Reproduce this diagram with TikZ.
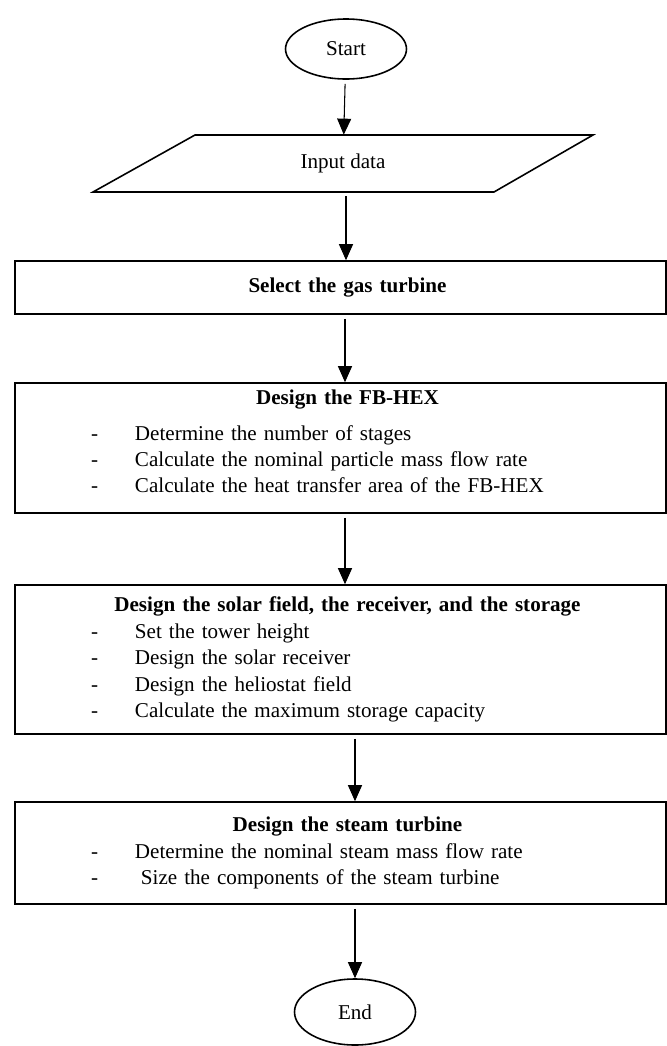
\documentclass[tikz,border=0pt]{standalone}
\usepackage{fontspec}
\setmainfont{Liberation Serif}
\usetikzlibrary{arrows.meta}
\usetikzlibrary{shapes.geometric}

\newcommand{\steptitle}[1]{{\centering\hspace*{0.28cm}\textbf{#1}\par}}
\newcommand{\substep}[2][0pt]{\par\noindent\hspace*{1.52cm}\makebox[0.88cm][l]{-}\hspace*{#1}#2}

\begin{document}
\begin{tikzpicture}[every node/.style={font=\fontsize{12}{15}\selectfont},
    terminal/.style={ellipse,draw,line width=0.9pt,minimum width=2.42cm,minimum height=1.2cm,inner sep=0pt},
    stepbox/.style={rectangle,draw,line width=0.9pt,minimum width=13.02cm,text width=13.02cm,inner sep=0pt,align=left},
    flow/.style={-{Triangle[length=0.32cm,width=0.28cm]},line width=0.6pt,shorten <=0.08cm}]
\useasboundingbox (0,0) rectangle (13.34,-20.92);

\draw (6.92,-0.98) node (Start) [terminal] {Start};

\draw[line width=0.9pt] (1.86,-3.84) -- (3.9,-2.7) -- (11.86,-2.7) -- (9.88,-3.84) -- cycle;
\draw (6.86,-3.27) node (Input) [minimum width=8.02cm,minimum height=1.14cm,inner sep=0pt] {Input data};

\draw (6.81,-5.75) node (Select) [stepbox,minimum height=1.06cm]
    {\steptitle{Select the gas turbine}};

\draw (6.81,-8.96) node (HEX) [stepbox,minimum height=2.6cm]
    {\steptitle{Design the FB-HEX}\vspace{0.18cm}
     \substep{Determine the number of stages}
     \substep{Calculate the nominal particle mass flow rate}
     \substep{Calculate the heat transfer area of the FB-HEX}\par\vskip0.26cm\hrule height0pt width0pt};

\draw (6.81,-13.19) node (Solar) [stepbox,minimum height=2.98cm]
    {\steptitle{Design the solar field, the receiver, and the storage}
     \substep{Set the tower height}
     \substep{Design the solar receiver}
     \substep{Design the heliostat field}
     \substep{Calculate the maximum storage capacity}};

\draw (6.81,-17.06) node (Steam) [stepbox,minimum height=2.04cm]
    {\steptitle{Design the steam turbine}
     \substep{Determine the nominal steam mass flow rate}
     \substep[0.12cm]{Size the components of the steam turbine}};

\draw (7.1,-20.24) node (End) [terminal,minimum height=1.32cm] {End};

\draw[flow] (Start) -- (Input);
\draw[flow] ([xshift=0.06cm]Input.south) -- ([xshift=0.06cm]Input.south |- Select.north);
\draw[flow] ([xshift=0.09cm]Select.south) -- ([xshift=0.09cm]HEX.north);
\draw[flow] ([xshift=0.09cm]HEX.south) -- ([xshift=0.09cm]Solar.north);
\draw[flow] ([xshift=0.29cm]Solar.south) -- ([xshift=0.29cm]Steam.north);
\draw[flow] (Steam.south -| End.north) -- (End.north);

\end{tikzpicture}
\end{document}
